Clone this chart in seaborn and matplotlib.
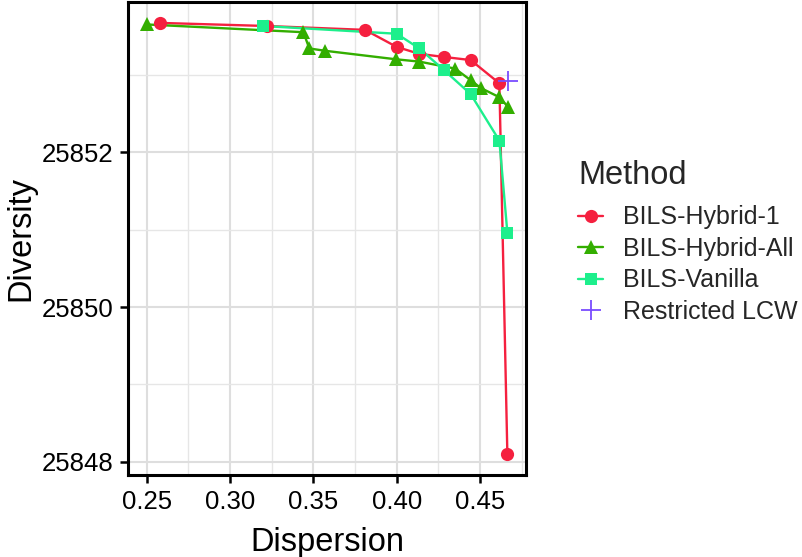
import numpy as np
import pandas as pd
import seaborn as sns
import matplotlib.pyplot as plt
from matplotlib.lines import Line2D
from matplotlib.ticker import MultipleLocator

# data
h1_x = [0.258, 0.322, 0.381, 0.400, 0.4136, 0.4284, 0.4444, 0.4616, 0.4664]
h1_y = [25853.67, 25853.63, 25853.58, 25853.36, 25853.27, 25853.23, 25853.19, 25852.89, 25848.10]

hall_x = [0.250, 0.344, 0.3476, 0.357, 0.3996, 0.4136, 0.435, 0.4444, 0.4504, 0.4616, 0.467]
hall_y = [25853.65, 25853.55, 25853.34, 25853.31, 25853.20, 25853.17, 25853.08, 25852.93,
          25852.83, 25852.71, 25852.58]

van_x = [0.320, 0.400, 0.4136, 0.4284, 0.4444, 0.4616, 0.4664]
van_y = [25853.63, 25853.53, 25853.34, 25853.06, 25852.75, 25852.15, 25850.96]

lcw_x = [0.467]
lcw_y = [25852.92]

methods = ["BILS-Hybrid-1", "BILS-Hybrid-All", "BILS-Vanilla", "Restricted LCW"]
colors = ["#F5203F", "#33AE00", "#1DEF8C", "#7A4CFF"]
markers = ["o", "^", "s", "+"]

df = pd.concat([
    pd.DataFrame({"Dispersion": h1_x, "Diversity": h1_y, "Method": methods[0]}),
    pd.DataFrame({"Dispersion": hall_x, "Diversity": hall_y, "Method": methods[1]}),
    pd.DataFrame({"Dispersion": van_x, "Diversity": van_y, "Method": methods[2]}),
    pd.DataFrame({"Dispersion": lcw_x, "Diversity": lcw_y, "Method": methods[3]}),
])

sns.set_theme(style="whitegrid")
plt.rcParams["font.family"] = ["Liberation Sans", "DejaVu Sans"]

fig = plt.figure(figsize=(8.02, 5.57), dpi=100)
ax = fig.add_axes([0.1596, 0.1472, 0.4963, 0.8492])

# lines first, points on top (like ggplot)
for m, c in zip(methods[:3], colors[:3]):
    sub = df[df["Method"] == m]
    sns.lineplot(data=sub, x="Dispersion", y="Diversity", color=c, lw=1.7,
                 estimator=None, sort=True, ax=ax, legend=False)
for m, c, mk in zip(methods, colors, markers):
    sub = df[df["Method"] == m]
    if mk == "+":
        ax.plot(sub["Dispersion"], sub["Diversity"], ls="none", marker="+",
                color=c, ms=14, mew=1.3, zorder=3)
    else:
        ax.plot(sub["Dispersion"], sub["Diversity"], ls="none", marker=mk,
                color=c, ms=9.5 if mk != "s" else 8.5, mew=0, zorder=3)

ax.set_xlim(0.2388, 0.4776)
ax.set_ylim(25847.83, 25853.94)
ax.xaxis.set_minor_locator(MultipleLocator(0.025))
ax.yaxis.set_minor_locator(MultipleLocator(1))
ax.set_xticks([0.25, 0.30, 0.35, 0.40, 0.45])
ax.set_xticklabels(["0.25", "0.30", "0.35", "0.40", "0.45"])
ax.set_yticks([25848, 25850, 25852])
ax.set_yticklabels(["25848", "25850", "25852"])

ax.grid(which="major", color="#DEDEDE", lw=1.5)
ax.grid(which="minor", color="#E6E6E6", lw=1.0)
ax.set_axisbelow(True)
for s in ax.spines.values():
    s.set_color("black")
    s.set_linewidth(2.2)
ax.tick_params(axis="both", which="major", direction="out", length=5.5, width=1.8,
               color="black", labelsize=18.5, labelcolor="black", pad=5,
               left=True, bottom=True)
ax.tick_params(which="minor", length=0)
ax.set_xlabel("Dispersion", fontsize=23.5, color="black", labelpad=10)
ax.set_ylabel("Diversity", fontsize=23.5, color="black", labelpad=4)

handles = []
for c, mk in zip(colors, markers):
    if mk == "+":
        handles.append(Line2D([], [], color=c, marker="+", ms=14, mew=1.3, lw=0))
    else:
        handles.append(Line2D([], [], color=c, marker=mk, lw=1.7,
                              ms=9.5 if mk != "s" else 8.5, mew=0))
leg = fig.legend(handles, methods, title="Method", loc="upper left",
                 bbox_to_anchor=(0.7207, 0.712), frameon=False, fontsize=18,
                 title_fontsize=23.5, handlelength=1.0, handletextpad=0.8,
                 labelspacing=0.3, borderpad=0, borderaxespad=0)
leg._legend_box.align = "left"
leg._legend_box.sep = 10

fig.savefig("out.png", dpi=100)
